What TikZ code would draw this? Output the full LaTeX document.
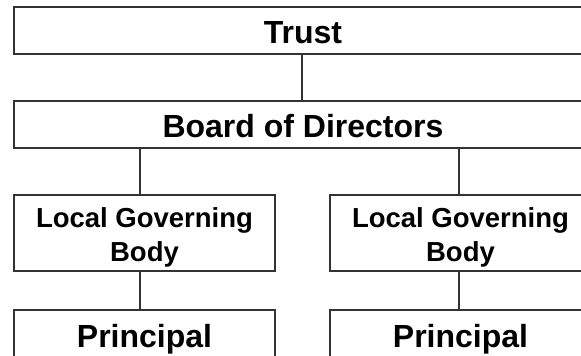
\documentclass[tikz,border=0pt]{standalone}
\usepackage{fontspec}
\setmainfont{Liberation Sans}
\begin{document}
\begin{tikzpicture}[x=1pt,y=-1pt,
  box/.style={draw=black!80,line width=1.1pt,rectangle,inner sep=0pt,anchor=center},
  wide/.style={box,minimum width=578pt,minimum height=47pt,text height=25pt,text depth=0pt,font=\bfseries\fontsize{32}{38}\selectfont},
  lgb/.style={box,minimum width=261pt,minimum height=76pt,align=center,text height=60pt,text depth=4pt,font=\bfseries\fontsize{27.5}{34}\selectfont},
  prin/.style={box,minimum width=261pt,minimum height=47pt,text height=27pt,text depth=0pt,font=\bfseries\fontsize{32}{38}\selectfont},
  link/.style={draw=black!80,line width=1.1pt}]
\useasboundingbox (0,0) rectangle (581,356);
\clip (0,0) rectangle (581,356);
\node[wide] (trust) at (303,30.5) {Trust};
\node[wide] (board) at (303,124.5) {Board of Directors};
\node[lgb] (lgbL) at (144.5,233) {Local Governing\\Body};
\node[lgb] (lgbR) at (460.5,233) {Local Governing\\Body};
\node[prin] (prinL) at (144.5,333.5) {Principal};
\node[prin] (prinR) at (460.5,333.5) {Principal};
\draw[link] ([xshift=-1pt]trust.south) -- ([xshift=-1pt]board.north);
\draw[link] ([xshift=-4.5pt]lgbL.north |- board.south) -- ([xshift=-4.5pt]lgbL.north);
\draw[link] ([xshift=-1.5pt]lgbR.north |- board.south) -- ([xshift=-1.5pt]lgbR.north);
\draw[link] ([xshift=-4.5pt]lgbL.south) -- ([xshift=-4.5pt]prinL.north);
\draw[link] ([xshift=-1.5pt]lgbR.south) -- ([xshift=-1.5pt]prinR.north);
\end{tikzpicture}
\end{document}
